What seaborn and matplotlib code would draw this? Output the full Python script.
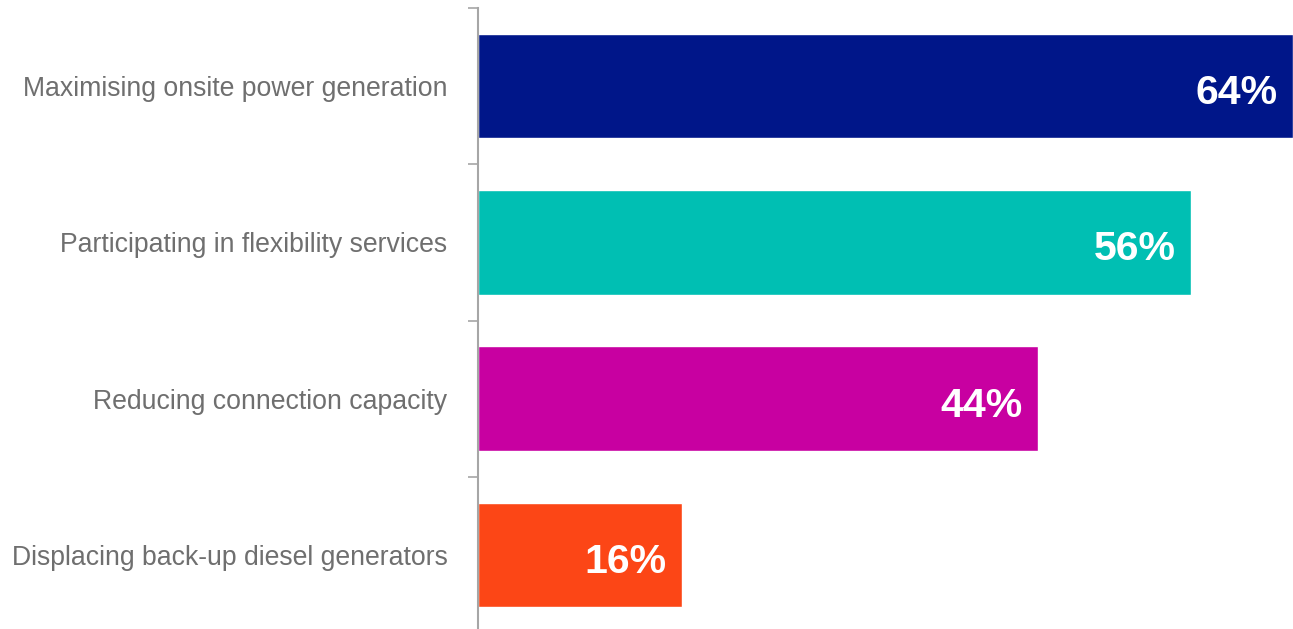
import matplotlib
matplotlib.use("Agg")
import matplotlib.pyplot as plt
import seaborn as sns
import pandas as pd

categories = ["Maximising onsite power generation",
              "Participating in flexibility services",
              "Reducing connection capacity",
              "Displacing back-up diesel generators"]
values = [64, 56, 44, 16]
colors = ["#001689", "#00BFB3", "#C800A1", "#FC4616"]

sns.set_style("white")
plt.rcParams['font.family'] = ['Liberation Sans', 'DejaVu Sans']

df = pd.DataFrame({"cat": categories, "val": values})

fig = plt.figure(figsize=(12.93, 6.29), dpi=100)
ax = fig.add_axes([478/1293, -4/629, 1 - 478/1293, 625/629])
sns.barplot(data=df, y="cat", x="val", hue="cat", palette=colors,
            legend=False, ax=ax, width=0.67, saturation=1)

ax.set_xlim(0, 64)
ax.set_ylim(3.5, -0.5)
ax.set_xlabel("")
ax.set_ylabel("")
ax.set_xticks([])
for s in ["top", "right", "bottom"]:
    ax.spines[s].set_visible(False)
ax.spines["left"].set_color("#A6A6A6")
ax.spines["left"].set_linewidth(1.5)

# category boundary ticks
ax.set_yticks([i - 0.5 for i in range(len(categories) + 1)], minor=False)
ax.set_yticklabels([])
ax.tick_params(axis="y", which="major", length=7, width=1.2, color="#A6A6A6", left=True)
ax.set_yticks(range(len(categories)), minor=True)
ax.set_yticklabels(categories, minor=True)
ax.tick_params(axis="y", which="minor", length=0, pad=22, labelsize=19.2, labelcolor="#6F6F6F")

for i, v in enumerate(values):
    ax.text(v - 1.2, i + 0.045, f"{v}%", ha="right", va="center", color="white",
            fontsize=29.5, fontweight="bold")

fig.savefig("out.png", dpi=100)
